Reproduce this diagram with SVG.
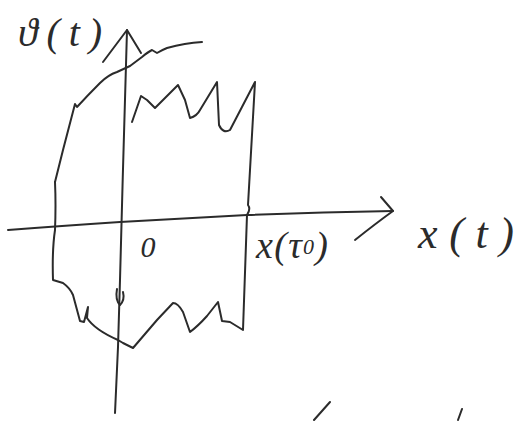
<svg xmlns="http://www.w3.org/2000/svg" width="518" height="421" viewBox="0 0 518 421">
<style>
.s{fill:none;stroke:#2b2b2b;stroke-width:2;stroke-linecap:round;stroke-linejoin:round}
.t{font-family:"Liberation Serif","DejaVu Serif",serif;font-style:italic;fill:#2b2b2b}
</style>
<rect width="518" height="421" fill="#fff"/>
<g id="axes">
<path class="s" d="M127,30 C125,100 122,200 120,280 L118,347 L115,413"/>
<path class="s" d="M103,62 L127,30 L141,53"/>
<path class="s" d="M8,230 Q60,226 120,222 L247,215 Q320,212 393,211"/>
<path class="s" d="M381,197 L393,211 Q375,224 355,240"/>
</g>
<g id="region">
<path class="s" d="M55,182 L63,150 L75,104 L77,107 Q88,95 100,83 Q108,75 117,72 L130,66 L142,57 Q148,52 152,50 L157,53 Q162,50 167,48 Q185,43 202,42"/>
<path class="s" d="M132,122 L141,96 L147,100 L155,108 L178,85 L185,100 L190,118 Q197,116 200,110 L217,82 L219,125 Q223,134 230,130 L255,82 L248,205 Q251,209 247,215 L243,330 L230,322 L222,321 L218,302 L207,316 Q198,326 190,332 L183,312 Q178,303 173,303 L157,320 L133,348 L123,343 L118,340 Q95,330 87,318 L88,307 L84,322 L80,321 L73,295 Q70,288 63,283 L53,280 Q52,250 55,230 Q56,205 55,182"/>
<path class="s" d="M117,289 Q115,300 120,305 Q125,300 123,292"/>
</g>
<g id="fragments">
<path class="s" d="M330,402 L314,420"/>
<path class="s" d="M462,409 L458,420"/>
</g>
<g id="labels">
<text class="t" x="18" y="46" font-size="40" textLength="84" lengthAdjust="spacing">ϑ(t)</text>
<text class="t" x="148" y="257" font-size="30" text-anchor="middle">0</text>
<text class="t" x="256" y="258" font-size="38" textLength="72" lengthAdjust="spacing">x(τ<tspan font-size="22" dy="-4">0</tspan><tspan dy="4">)</tspan></text>
<text class="t" x="418" y="248" font-size="44" textLength="96" lengthAdjust="spacing">x(t)</text>
</g>
</svg>
